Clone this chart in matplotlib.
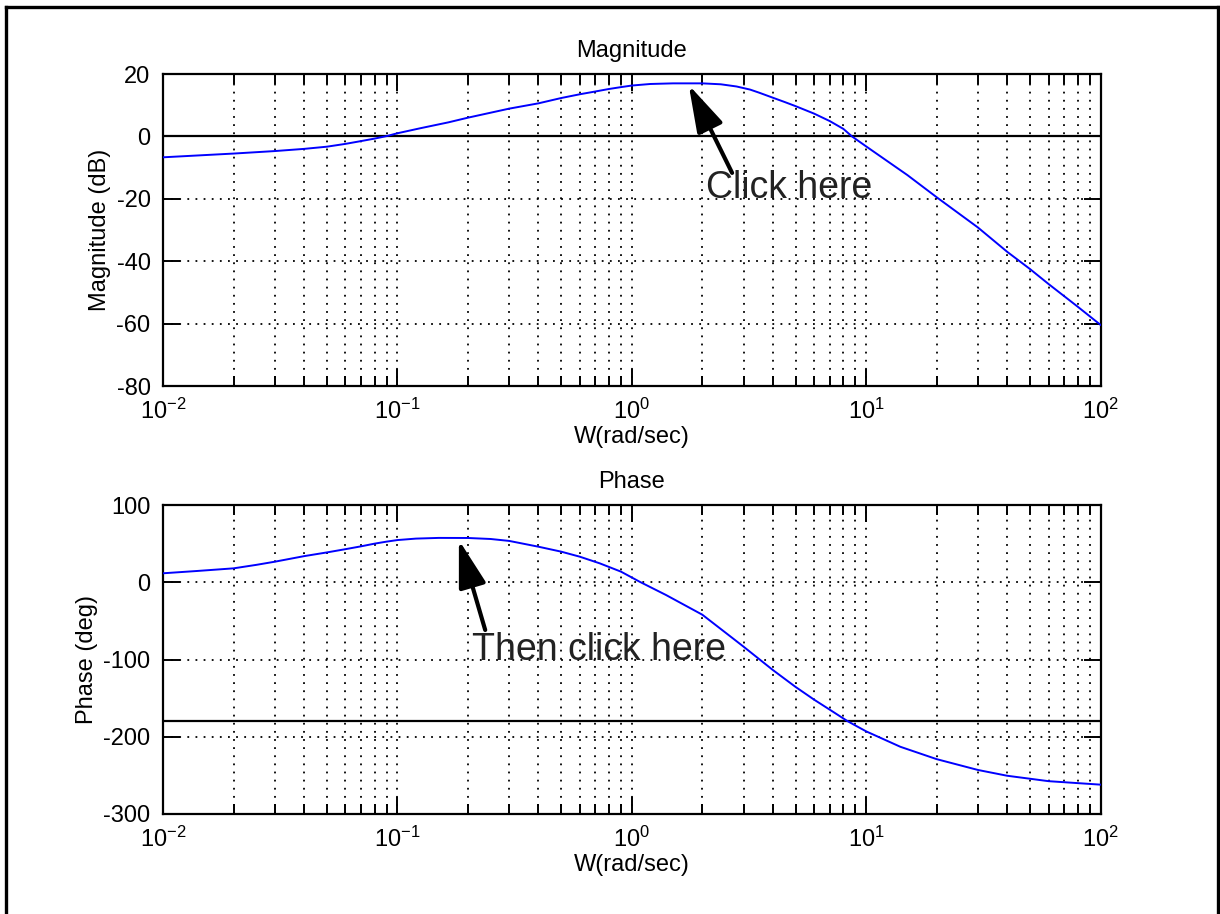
import numpy as np
import matplotlib
matplotlib.use('Agg')
import matplotlib.pyplot as plt
from matplotlib.lines import Line2D

plt.rcParams['font.family'] = ['Liberation Sans', 'DejaVu Sans']
plt.rcParams['mathtext.fontset'] = 'custom'
plt.rcParams['mathtext.rm'] = 'Liberation Sans'
plt.rcParams['mathtext.it'] = 'Liberation Sans:italic'
plt.rcParams['mathtext.bf'] = 'Liberation Sans:bold'
plt.rcParams['axes.unicode_minus'] = False

# magnitude curve (rad/sec, dB)
mag_freq = [0.01, 0.02, 0.03, 0.04, 0.05, 0.06, 0.07, 0.08, 0.09, 0.1, 0.125,
            0.165, 0.2, 0.3, 0.4, 0.5, 0.6, 0.7, 0.8, 0.9, 1.0, 1.2, 1.5, 2.0,
            2.4, 2.8, 3.2, 3.5, 4.0, 4.5, 5.0, 6.0, 7.0, 8.0, 8.7, 10, 15, 20,
            30, 40, 50, 60, 80, 100]
mag_db = [-6.7, -5.5, -4.7, -4.0, -3.3, -2.4, -1.5, -0.7, 0.1, 1.0, 2.6,
          4.5, 6.0, 8.9, 10.6, 12.3, 13.5, 14.4, 15.2, 15.8, 16.3, 16.8, 17.0, 17.0,
          16.7, 16.0, 15.0, 14.0, 12.4, 11.0, 9.7, 7.3, 4.9, 2.4, 0.0, -3.2, -12.4, -19.5,
          -29.2, -37.0, -42.5, -47.3, -54.6, -60.4]

# phase curve (rad/sec, deg)
ph_freq = [0.01, 0.014, 0.02, 0.025, 0.03, 0.04, 0.05, 0.06, 0.07, 0.08, 0.09,
           0.1, 0.12, 0.15, 0.2, 0.25, 0.3, 0.4, 0.5, 0.6, 0.73, 0.9, 1.08,
           1.4, 2.0, 2.7, 3.0, 4.0, 5.0, 6.0, 7.0, 8.35, 10, 14, 20, 30, 40,
           60, 100]
ph_deg = [11.6, 14.6, 18.0, 22.5, 26.6, 33.8, 38.6, 42.8, 46.5, 50.0, 52.6,
          54.6, 56.5, 57.4, 57.3, 56.0, 53.5, 46.0, 39.6, 33.1, 24.5, 13.7, 0.7,
          -16.5, -42.0, -72.6, -83.4, -113.6, -135.5, -152.0, -165.0, -180.0, -193.0,
          -213.0, -229.0, -243.0, -250.5, -257.5, -262.0]

mag_ticks = [-80, -60, -40, -20, 0, 20]
ph_ticks = [-300, -200, -100, 0, 100]

W, H = 1220, 914
fig = plt.figure(figsize=(W / 100, H / 100), dpi=100)

dots = (0, (1, 3.5))


def style(ax, yticks, title, ylabel):
    ax.set_xscale('log')
    ax.set_xlim(0.01, 100)
    ax.set_ylim(yticks[0], yticks[-1])
    ax.set_yticks(yticks)
    ax.grid(True, which='both', axis='x', color='black', linestyle=dots, linewidth=1.3)
    ax.grid(True, which='major', axis='y', color='black', linestyle=dots, linewidth=1.3)
    ax.tick_params(which='both', direction='in', top=True, right=True,
                   width=1.4, labelsize=17, colors='black')
    ax.tick_params(which='major', length=12, pad=9)
    ax.tick_params(which='minor', length=7)
    for s in ax.spines.values():
        s.set_linewidth(1.6)
    ax.set_title(title, fontsize=17, pad=12)
    ax.set_xlabel('W(rad/sec)', fontsize=17, labelpad=2)
    ax.set_ylabel(ylabel, fontsize=17, labelpad=4)


ax1 = fig.add_axes([163 / W, 1 - 386 / H, 937.5 / W, 312 / H])
ax1.plot(mag_freq, mag_db, color='blue', lw=1.4, zorder=3)
ax1.axhline(0, color='black', lw=1.6, zorder=2)
style(ax1, mag_ticks, 'Magnitude', 'Magnitude (dB)')

ax2 = fig.add_axes([163 / W, 1 - 814 / H, 937.5 / W, 309 / H])
ax2.plot(ph_freq, ph_deg, color='blue', lw=1.4, zorder=3)
ax2.axhline(-180, color='black', lw=1.6, zorder=2)
style(ax2, ph_ticks, 'Phase', 'Phase (deg)')

arrow = dict(arrowstyle='-|>,head_length=29,head_width=8.5', mutation_scale=1,
             lw=3, color='black', shrinkA=0, shrinkB=0)

ax1.annotate('', xy=(1.75, 16.5), xytext=(2.68, -11.7), arrowprops=arrow, zorder=5)
ax1.text(2.07, -16.5, 'Click here', fontsize=27, color='#222222', va='center', ha='left', zorder=5)

ax2.annotate('', xy=(0.183, 54.7), xytext=(0.237, -61.8), arrowprops=arrow, zorder=5)
ax2.text(0.208, -87.7, 'Then click here', fontsize=27, color='#222222', va='center', ha='left', zorder=5)

# outer frame (left, top, right)
x0, x1, yt = 6 / W, 1217.5 / W, 1 - 7 / H
for xs, ys in [([x0, x0], [0, yt]), ([x0, x1], [yt, yt]), ([x1, x1], [yt, 0])]:
    fig.add_artist(Line2D(xs, ys, transform=fig.transFigure, color='black', lw=2.4))

fig.savefig('out.png', dpi=100)
